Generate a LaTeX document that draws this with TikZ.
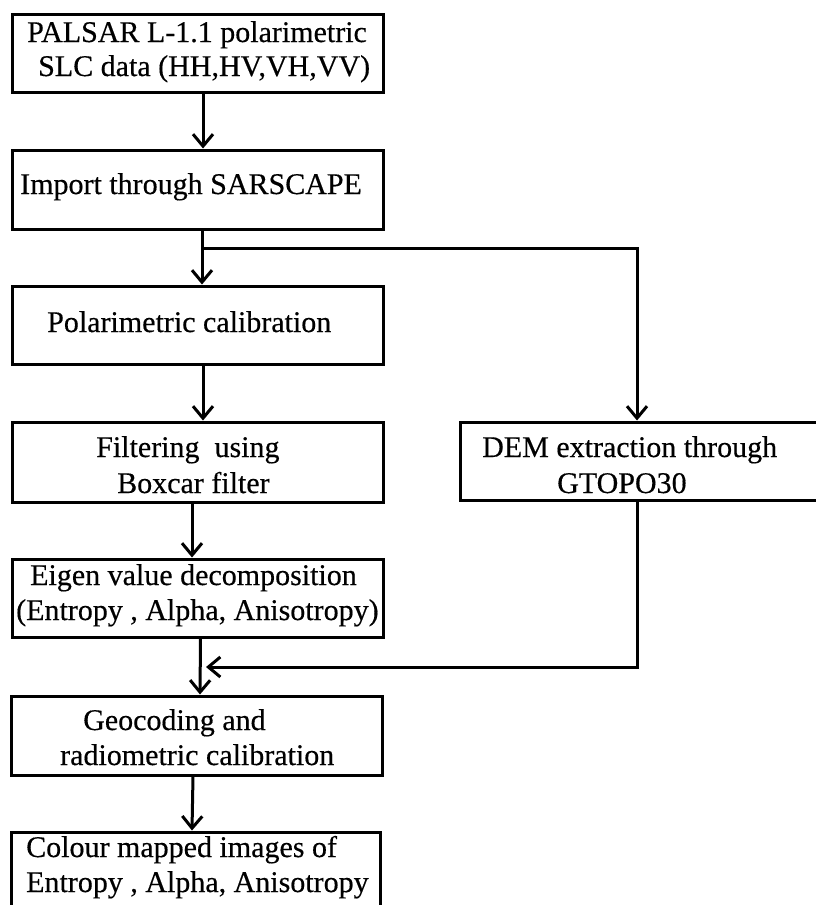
\documentclass[tikz,border=0pt]{standalone}
\usepackage{fontspec}
\setmainfont{Liberation Serif}[FakeBold=0.4]
\usetikzlibrary{arrows.meta}
\tikzset{
  x=1pt, y=-1pt,
  box/.style={draw=black, line width=3pt, inner sep=0pt, minimum width=371pt, minimum height=78pt},
  lbl/.style={anchor=base west, inner sep=0pt, font=\fontsize{30}{33}\selectfont},
  link/.style={line width=3pt, draw=black},
  arr/.style={link, -{Straight Barb[length=12pt, width=20pt, line width=3pt]}}
}
\begin{document}
\begin{tikzpicture}
\clip (0,0) rectangle (816,905);
\fill[white] (0,0) rectangle (816,905);
% boxes
\node[box] (b1) at (197.5,53) {};
\node[box, minimum height=79pt] (b2) at (197.5,189.5) {};
\node[box] (b3) at (197.5,325) {};
\node[box, minimum height=80pt] (b4) at (197.5,462) {};
\node[box, minimum width=358pt] (dem) at (639,461) {};
\node[box] (b5) at (197.5,598) {};
\node[box, minimum height=79pt] (b6) at (197,735.5) {};
\node[box, minimum height=80pt, minimum width=369pt] (b7) at (196,872) {};
% texts
\node[lbl] (t1a) at (27,42) {PALSAR L-1.1 polarimetric};
\node[lbl] (t1b) at (38,76) {SLC data (HH,HV,VH,VV)};
\node[lbl] (t2) at (20,194) {Import through SARSCAPE};
\node[lbl] (t3) at (47,332) {Polarimetric calibration};
\node[lbl] (t4a) at (96,457) {Filtering\ \ using};
\node[lbl] (t4b) at (117,493) {Boxcar filter};
\node[lbl] (tda) at (482,457) {DEM extraction through};
\node[lbl] (tdb) at (557,493) {GTOPO30};
\node[lbl] (t5a) at (30,585) {Eigen value decomposition};
\node[lbl] (t5b) at (16,620) {(Entropy , Alpha, Anisotropy)};
\node[lbl] (t6a) at (83,730) {Geocoding and};
\node[lbl] (t6b) at (60,765) {radiometric calibration};
\node[lbl] (t7a) at (26,857) {Colour mapped images of};
\node[lbl] (t7b) at (26,892) {Entropy , Alpha, Anisotropy};
% connectors
\draw[arr] ([xshift=5.5pt]b1.south) -- ([xshift=5.5pt]b2.north);
\draw[arr] ([xshift=4.5pt]b2.south) -- ([xshift=4.5pt]b3.north);
\coordinate (br) at (202,248);
\draw[arr] (br) -| ([xshift=-2pt]dem.north);
\draw[arr] ([xshift=5.5pt]b3.south) -- ([xshift=5.5pt]b4.north);
\draw[arr] ([xshift=-5.5pt]b4.south) -- ([xshift=-5.5pt]b5.north);
\draw[arr] ([xshift=3pt]b5.south) -- ([xshift=3pt]b6.north);
\coordinate (mg) at (206,667);
\draw[arr] ([xshift=-2pt]dem.south) |- (mg);
\draw[arr] ([xshift=-4pt]b6.south) -- ([xshift=-4pt]b7.north);
\end{tikzpicture}
\end{document}
